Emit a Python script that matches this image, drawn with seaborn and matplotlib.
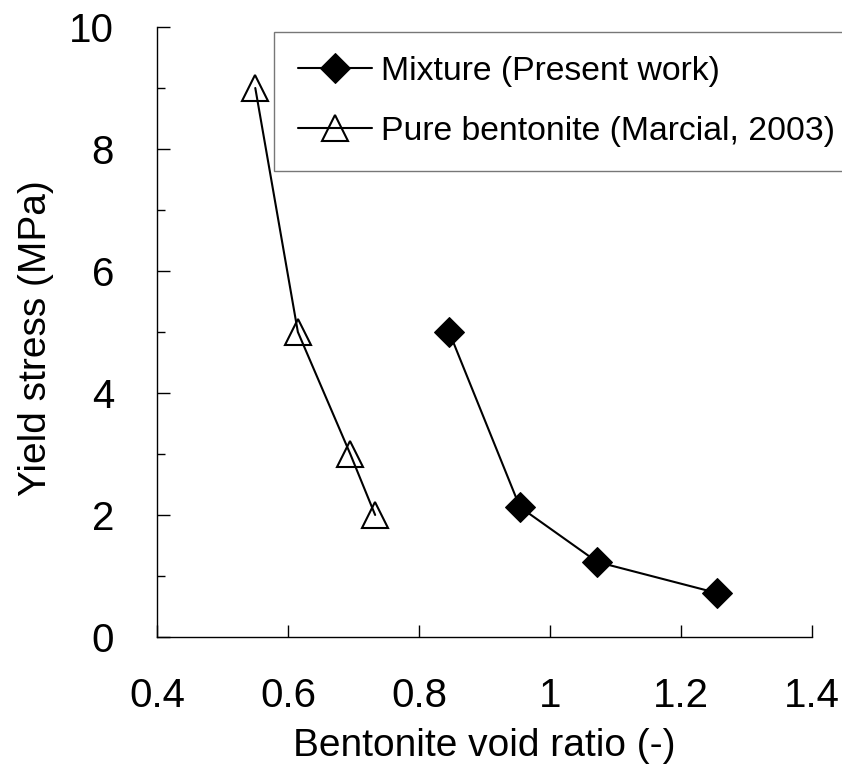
import numpy as np
import pandas as pd
import matplotlib
matplotlib.use("Agg")
import matplotlib.pyplot as plt
from matplotlib.ticker import MultipleLocator
import seaborn as sns

# data
mix_e = [0.846, 0.954, 1.072, 1.255]
mix_s = [5.0, 2.13, 1.23, 0.72]
pure_e = [0.55, 0.615, 0.695, 0.733]
pure_s = [9.0, 5.0, 3.0, 2.0]

sns.set_style("ticks")
plt.rcParams['font.family'] = ['Liberation Sans', 'DejaVu Sans']
plt.rcParams['text.color'] = 'black'
plt.rcParams['axes.labelcolor'] = 'black'
plt.rcParams['xtick.color'] = 'black'
plt.rcParams['ytick.color'] = 'black'

fig = plt.figure(figsize=(8.42, 7.69), dpi=100)
ax = fig.add_axes([0.1865, 0.1717, 0.7779, 0.7932])

df_mix = pd.DataFrame({"e": mix_e, "s": mix_s})
df_pure = pd.DataFrame({"e": pure_e, "s": pure_s})

sns.lineplot(data=df_mix, x="e", y="s", sort=False, ax=ax, color="black",
             lw=1.5, marker="D", markersize=15, markerfacecolor="black",
             markeredgecolor="black", label="Mixture (Present work)")
sns.lineplot(data=df_pure, x="e", y="s", sort=False, ax=ax, color="black",
             lw=1.5, marker="^", markersize=19, markerfacecolor="none",
             markeredgecolor="black", markeredgewidth=1.5,
             label="Pure bentonite (Marcial, 2003)")

ax.set_xlim(0.4, 1.4)
ax.set_ylim(0, 10)
ax.yaxis.set_major_locator(MultipleLocator(2))
ax.yaxis.set_minor_locator(MultipleLocator(1))
ax.set_xticks([0.4, 0.6, 0.8, 1.0, 1.2, 1.4])
ax.set_xticklabels(["0.4", "0.6", "0.8", "1", "1.2", "1.4"])

for side in ["top", "right"]:
    ax.spines[side].set_visible(False)
for side in ["left", "bottom"]:
    ax.spines[side].set_linewidth(1.0)
    ax.spines[side].set_color("black")

ax.tick_params(axis="x", which="major", direction="in", length=9, width=1,
               pad=29, labelsize=29, colors="black")
ax.tick_params(axis="y", which="major", direction="in", length=9, width=1,
               pad=31, labelsize=29, colors="black")
ax.tick_params(axis="y", which="minor", direction="in", length=6, width=1)

ax.set_xlabel("Bentonite void ratio (-)", fontsize=28)
ax.set_ylabel("Yield stress (MPa)", fontsize=28)
ax.xaxis.set_label_coords(0.5, -0.15)
ax.yaxis.set_label_coords(-0.157, 0.49)

leg = ax.legend(loc="upper left", bbox_to_anchor=(0.3254, 0.9584),
                bbox_transform=fig.transFigure, borderaxespad=0,
                prop={"size": 24.3},
                frameon=True, fancybox=False, handlelength=2.2,
                handletextpad=0.27, borderpad=0.71, labelspacing=0.86)
leg.get_frame().set_edgecolor("#555555")
leg.get_frame().set_linewidth(1.0)

fig.savefig("out.png", dpi=100)
